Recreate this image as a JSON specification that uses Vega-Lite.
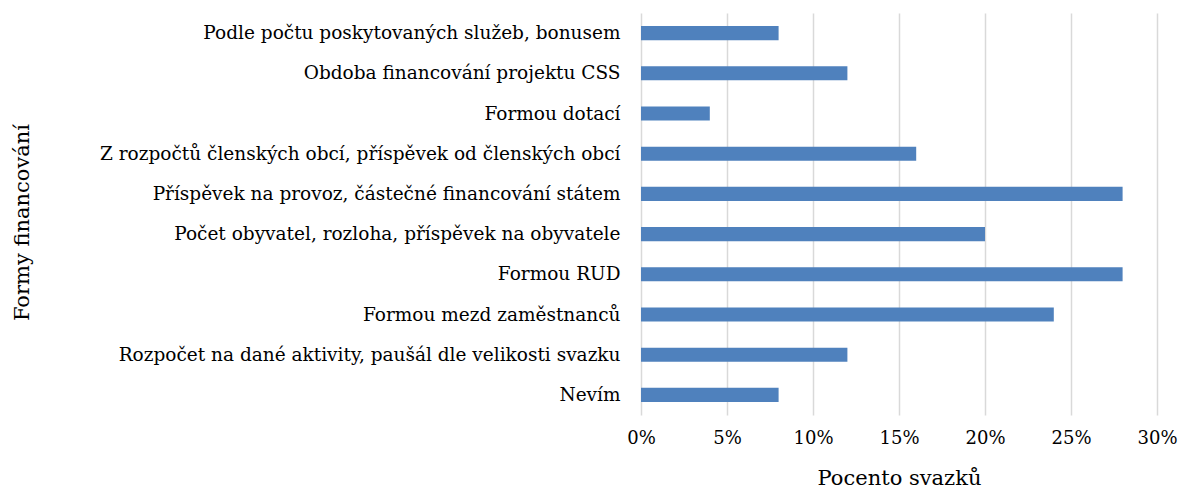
{
  "$schema": "https://vega.github.io/schema/vega-lite/v6.json",
  "width": 516,
  "height": 402,
  "autosize": {"type": "none"},
  "padding": {"left": 641, "top": 13, "right": 21, "bottom": 81},
  "background": "white",
  "config": {
    "font": "DejaVu Serif",
    "view": {"stroke": null}
  },
  "data": {
    "values": [
      {"forma": "Podle počtu poskytovaných služeb, bonusem", "podil": 0.08},
      {"forma": "Obdoba financování projektu CSS", "podil": 0.12},
      {"forma": "Formou dotací", "podil": 0.04},
      {"forma": "Z rozpočtů členských obcí, příspěvek od členských obcí", "podil": 0.16},
      {"forma": "Příspěvek na provoz, částečné financování státem", "podil": 0.28},
      {"forma": "Počet obyvatel, rozloha, příspěvek na obyvatele", "podil": 0.20},
      {"forma": "Formou RUD", "podil": 0.28},
      {"forma": "Formou mezd zaměstnanců", "podil": 0.24},
      {"forma": "Rozpočet na dané aktivity, paušál dle velikosti svazku", "podil": 0.12},
      {"forma": "Nevím", "podil": 0.08}
    ]
  },
  "mark": {"type": "bar", "color": "#4F81BD"},
  "encoding": {
    "y": {
      "field": "forma",
      "type": "nominal",
      "sort": null,
      "scale": {"paddingInner": 0.65, "paddingOuter": 0.325},
      "axis": {
        "title": "Formy financování",
        "titleFontSize": 21,
        "titleFontWeight": "normal",
        "titleColor": "#000000",
        "titleAngle": -90,
        "titleX": -619,
        "titleY": 209,
        "titleAlign": "center",
        "titleBaseline": "middle",
        "labelFontSize": 18.5,
        "labelColor": "#000000",
        "labelPadding": 21,
        "labelLimit": 700,
        "ticks": false,
        "domain": false,
        "grid": false
      }
    },
    "x": {
      "field": "podil",
      "type": "quantitative",
      "scale": {"domain": [0, 0.3], "nice": false},
      "axis": {
        "title": "Pocento svazků",
        "titleFontSize": 21,
        "titleFontWeight": "normal",
        "titleColor": "#000000",
        "titlePadding": 20,
        "format": ".0%",
        "values": [0, 0.05, 0.1, 0.15, 0.2, 0.25, 0.3],
        "labelFontSize": 18,
        "labelColor": "#000000",
        "labelPadding": 14,
        "labelFlush": false,
        "ticks": false,
        "domain": false,
        "grid": true,
        "gridColor": "#D9D9D9",
        "gridWidth": 1.5
      }
    }
  }
}
